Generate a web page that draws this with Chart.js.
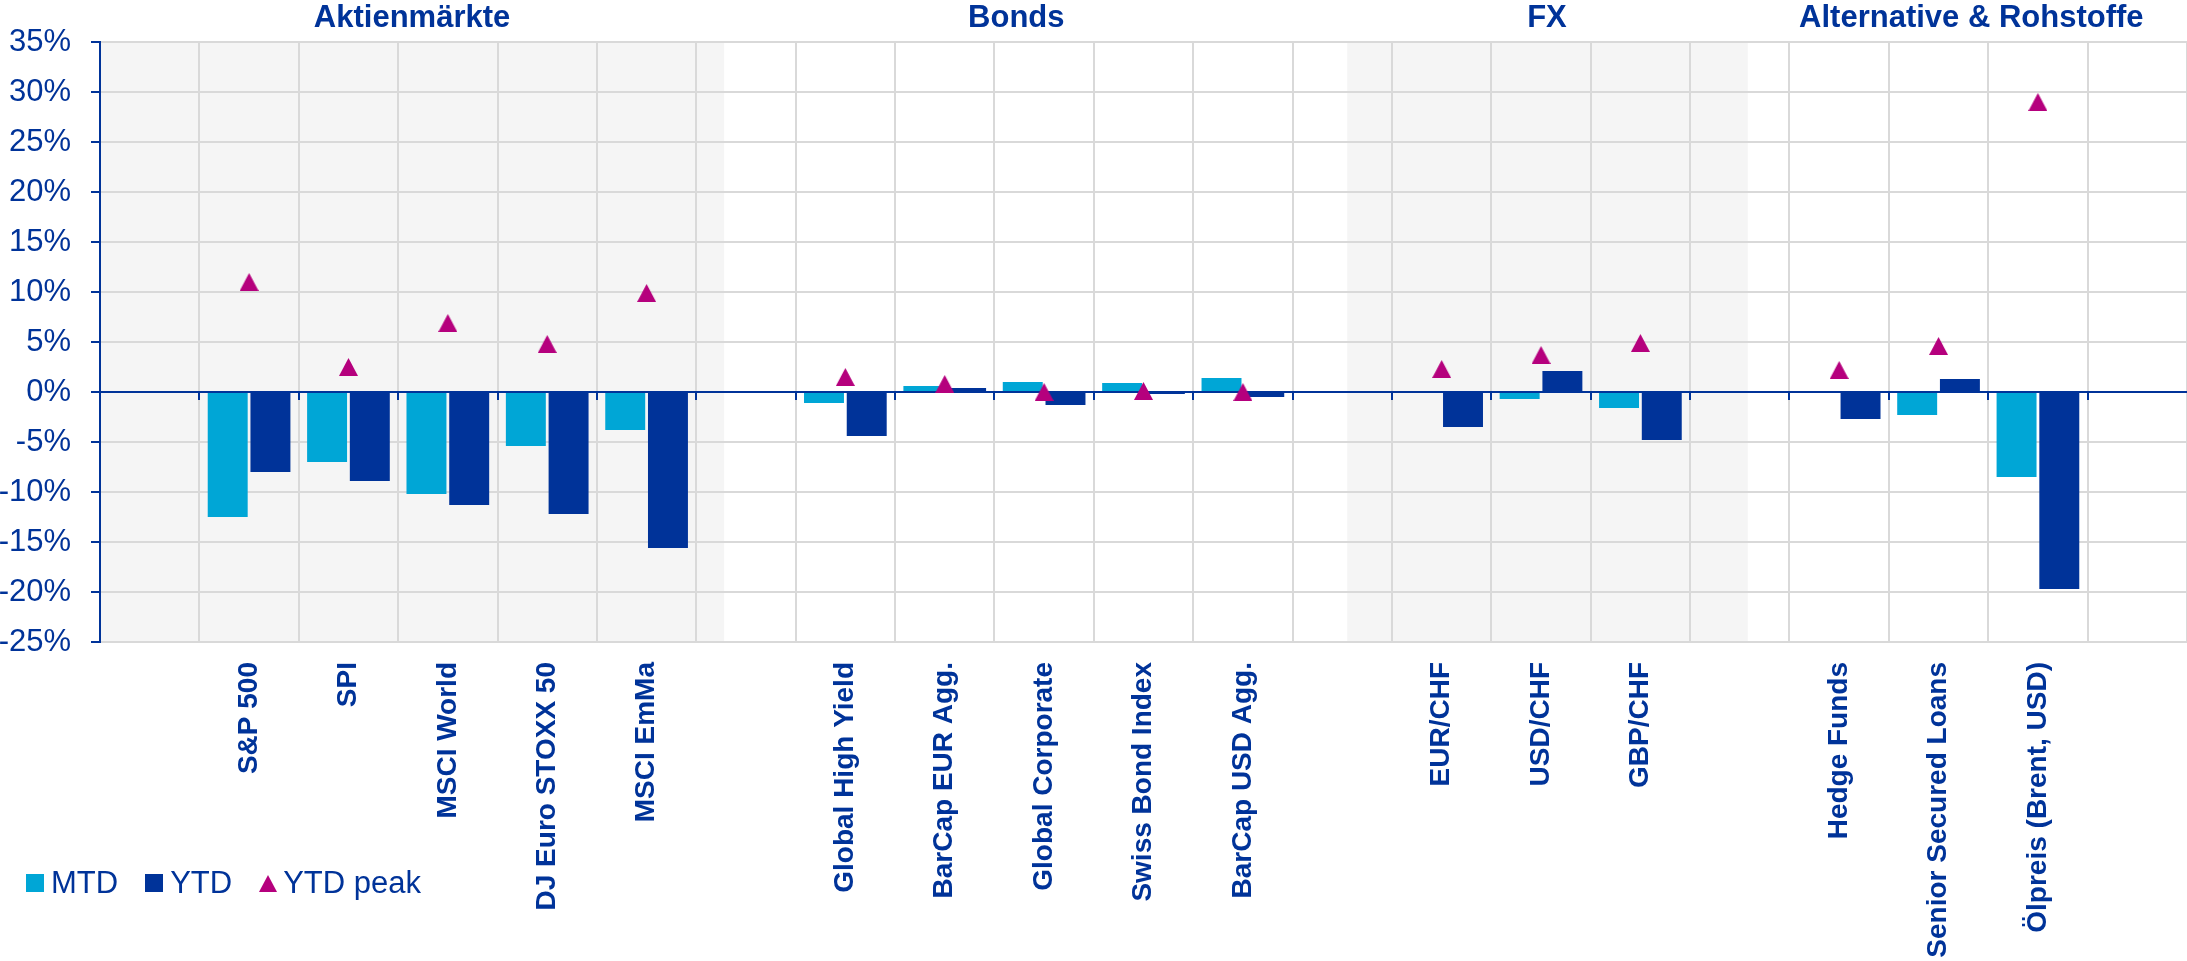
<!DOCTYPE html>
<html>
<head>
<meta charset="utf-8">
<title>Performance MTD / YTD</title>
<script src="https://cdn.jsdelivr.net/npm/chart.js"></script>
<style>
body { margin: 0; background: #fff; }
#wrap { position: relative; width: 2187px; height: 961px; }
#legend { position: absolute; left: 26px; top: 866px; height: 34px; display: flex; align-items: center;
  font-family: "Liberation Sans", Arial, sans-serif; font-size: 31px; color: #003399; }
#legend .item { display: flex; align-items: center; margin-right: 27px; }
#legend .sq { width: 18px; height: 18px; margin-right: 7px; }
#legend .tri { width: 0; height: 0; border-left: 9.5px solid transparent; border-right: 9.5px solid transparent;
  border-bottom: 17px solid #b5007d; margin-right: 6px; }
</style>
</head>
<body>
<div id="wrap">
  <canvas id="myChart" width="2187" height="961"></canvas>
  <div id="legend">
    <div class="item"><span class="sq" style="background:#00a6d6"></span>MTD</div>
    <div class="item"><span class="sq" style="background:#003399"></span>YTD</div>
    <div class="item"><span class="tri"></span>YTD peak</div>
  </div>
</div>
<script>
// categories, empty slots separate the groups
var categories = ['', 'S&P 500', 'SPI', 'MSCI World', 'DJ Euro STOXX 50', 'MSCI EmMa', '',
  'Global High Yield', 'BarCap EUR Agg.', 'Global Corporate', 'Swiss Bond Index', 'BarCap USD Agg.', '',
  'EUR/CHF', 'USD/CHF', 'GBP/CHF', '',
  'Hedge Funds', 'Senior Secured Loans', 'Ölpreis (Brent, USD)', ''];

// values in %
var mtd = [null, -12.5, -7.0, -10.2, -5.4, -3.8, null,
  -1.1, 0.6, 1.0, 0.9, 1.4, null,
  0.1, -0.7, -1.6, null,
  0, -2.3, -8.5, null];

var ytd = [null, -8.0, -8.9, -11.3, -12.2, -15.6, null,
  -4.4, 0.4, -1.3, -0.2, -0.5, null,
  -3.5, 2.1, -4.8, null,
  -2.7, 1.3, -19.7, null];

var ytdPeak = [null, 11.0, 2.5, 6.9, 4.8, 9.9, null,
  1.5, 0.8, 0.0, 0.1, 0.0, null,
  2.3, 3.7, 4.9, null,
  2.2, 4.6, 29.0, null];

// group headers, where each group band starts/ends and where its header sits (category index units)
var groupTitles = ['Aktienmärkte', 'Bonds', 'FX', 'Alternative & Rohstoffe'];
var groupEdges = [-0.5, 5.78, 12.05, 16.08, 20.5];
var titleAt = [2.64, 8.72, 14.06, 18.33];

// y axis range
var yMin = -25, yMax = 35, yStep = 5;

var colMTD = '#00a6d6';
var colYTD = '#003399';
var colPeak = '#b5007d';
var txtCol = '#003399';
var gridCol = '#d9d9d9';
var bandCol = '#f5f5f5';
var fontFam = '"Liberation Sans", Arial, sans-serif';

// triangle marker as small canvas
var tri = document.createElement('canvas');
tri.width = 19; tri.height = 18;
var tc = tri.getContext('2d');
tc.fillStyle = colPeak;
tc.beginPath();
tc.moveTo(9.5, 0); tc.lineTo(19, 18); tc.lineTo(0, 18);
tc.closePath();
tc.fill();

var groupPlugin = {
  id: 'groups',
  beforeDraw: function(chart) {
    var ctx = chart.ctx, x = chart.scales.x, area = chart.chartArea;
    ctx.save();
    ctx.fillStyle = bandCol;
    for (var g = 0; g < groupTitles.length; g += 2) {
      var x0 = x.getPixelForValue(groupEdges[g]);
      var x1 = x.getPixelForValue(groupEdges[g + 1]);
      ctx.fillRect(x0, area.top, x1 - x0, area.bottom - area.top);
    }
    ctx.restore();
  },
  // zero line with its small ticks, over the bars but under the triangles
  beforeDatasetDraw: function(chart, args) {
    if (args.index !== 2) return;
    var ctx = chart.ctx, x = chart.scales.x, y = chart.scales.y, area = chart.chartArea;
    var y0 = y.getPixelForValue(0);
    ctx.save();
    ctx.strokeStyle = txtCol;
    ctx.lineWidth = 2;
    ctx.beginPath();
    ctx.moveTo(area.left, y0);
    ctx.lineTo(area.right, y0);
    for (var i = 1; i < categories.length; i++) {
      var xp = Math.round(x.getPixelForValue(i - 0.5));
      ctx.moveTo(xp, y0);
      ctx.lineTo(xp, y0 + 8);
    }
    ctx.stroke();
    ctx.restore();
  },
  afterDraw: function(chart) {
    var ctx = chart.ctx, x = chart.scales.x;
    ctx.save();
    ctx.fillStyle = txtCol;
    ctx.font = 'bold 31px ' + fontFam;
    ctx.textAlign = 'center';
    ctx.textBaseline = 'alphabetic';
    for (var g = 0; g < groupTitles.length; g++) {
      ctx.fillText(groupTitles[g], x.getPixelForValue(titleAt[g]), 27);
    }
    ctx.restore();
  }
};

var ctx = document.getElementById('myChart').getContext('2d');

var myChart = new Chart(ctx, {
  type: 'bar',
  data: {
    labels: categories,
    datasets: [
      { label: 'MTD', data: mtd, backgroundColor: colMTD, order: 1,
        categoryPercentage: 0.86, barPercentage: 0.935 },
      { label: 'YTD', data: ytd, backgroundColor: colYTD, order: 1,
        categoryPercentage: 0.86, barPercentage: 0.935 },
      { type: 'line', label: 'YTD peak', data: ytdPeak, showLine: false, order: 0,
        pointStyle: tri, pointRadius: 9, backgroundColor: colPeak, borderColor: colPeak }
    ]
  },
  options: {
    responsive: false,
    animation: false,
    devicePixelRatio: 1,
    layout: { autoPadding: false, padding: { top: 42, left: 0, right: 0, bottom: 0 } },
    plugins: {
      legend: { display: false },
      tooltip: { enabled: false }
    },
    scales: {
      x: {
        grid: { color: gridCol, lineWidth: 2, drawTicks: false, offset: true },
        border: { color: gridCol, width: 2 },
        ticks: {
          autoSkip: false, minRotation: 90, maxRotation: 90, padding: 20,
          color: txtCol, font: { family: fontFam, size: 28, weight: 'bold' }
        },
        afterFit: function(s) {
          s.height = 319;
          s.paddingLeft = 0;
          s.paddingRight = 0;
        }
      },
      y: {
        min: yMin, max: yMax,
        ticks: {
          stepSize: yStep, padding: 20, color: txtCol,
          font: { family: fontFam, size: 31 },
          callback: function(v) { return v + '%'; }
        },
        grid: {
          color: function(c) { return c.tick && c.tick.value === 0 ? txtCol : gridCol; },
          lineWidth: 2, tickLength: 9, tickColor: txtCol, tickWidth: 2
        },
        border: { color: txtCol, width: 2 },
        afterFit: function(s) { s.width = 100; }
      }
    }
  },
  plugins: [groupPlugin]
});
</script>
</body>
</html>
